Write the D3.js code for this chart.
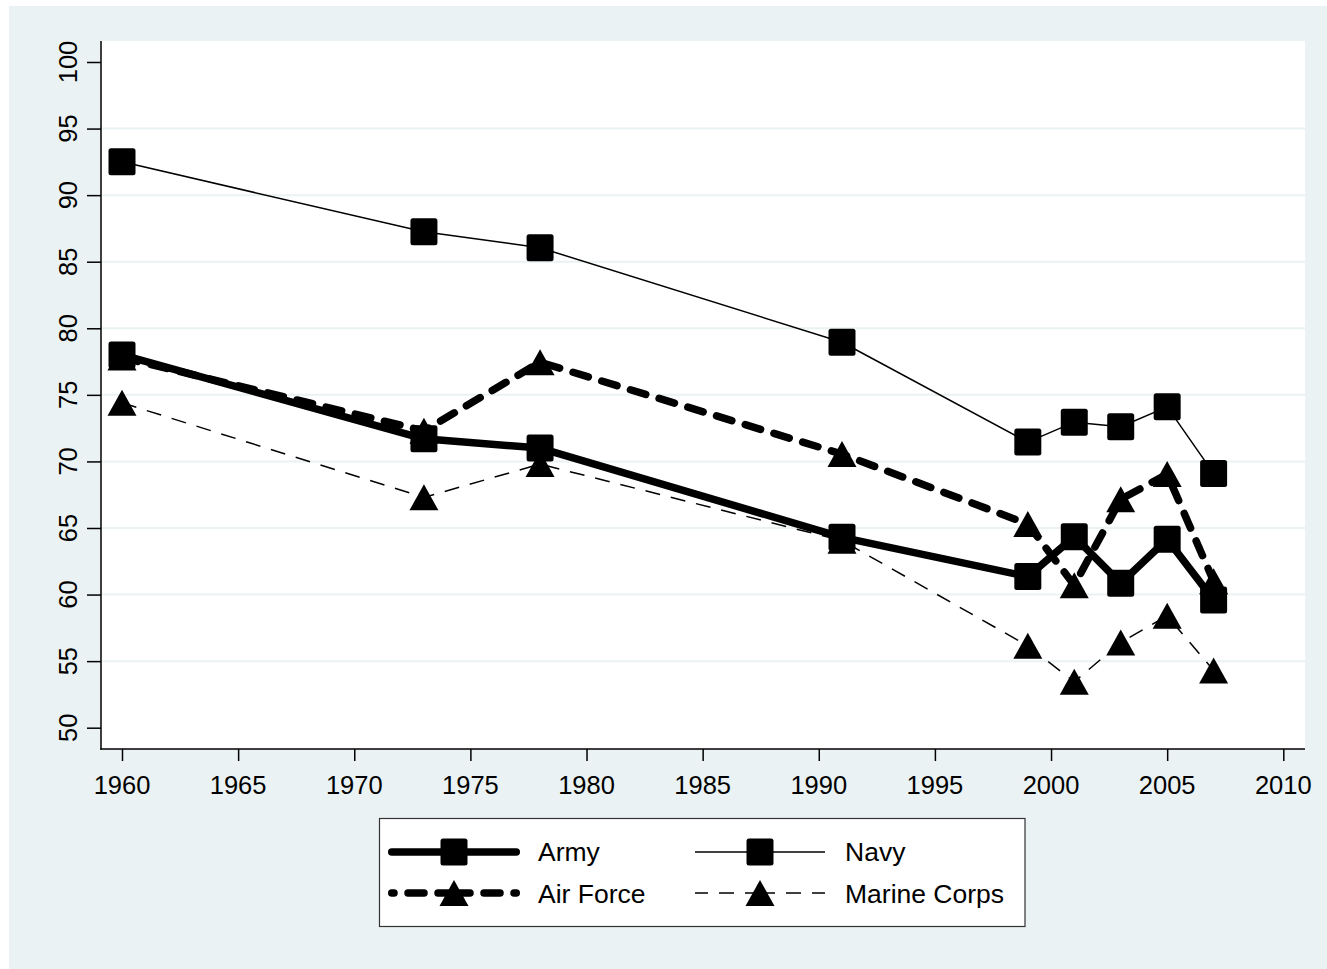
<!DOCTYPE html>
<html>
<head>
<meta charset="utf-8">
<script src="https://cdn.jsdelivr.net/npm/d3@7/dist/d3.min.js"></script>
<style>
  html, body { margin: 0; padding: 0; background: #ffffff; }
  svg { display: block; }
  text { font-family: "Liberation Sans", Arial, Helvetica, sans-serif; fill: #000; }
</style>
</head>
<body>
<svg id="chart" width="1327" height="969"></svg>
<script>
// ---- Data ----
const years = [1960, 1973, 1978, 1991, 1999, 2001, 2003, 2005, 2007];
const army    = [78.0, 71.7, 71.0, 64.3, 61.35, 64.35, 60.85, 64.15, 59.6];
const navy    = [92.5, 87.25, 86.05, 78.95, 71.45, 72.95, 72.6, 74.1, 69.1];
const airForce = [77.8, 72.3, 77.45, 70.55, 65.3, 60.7, 67.15, 69.05, 61.0];
const marineCorps = [74.4, 67.3, 69.8, 64.05, 56.15, 53.45, 56.4, 58.4, 54.3];
const xTicks = [1960, 1965, 1970, 1975, 1980, 1985, 1990, 1995, 2000, 2005, 2010];
const yTicks = [50, 55, 60, 65, 70, 75, 80, 85, 90, 95, 100];
const seriesNames = ["Army", "Navy", "Air Force", "Marine Corps"];

const svg = d3.select("#chart");
const bg = "#eaf2f3";

// outer graph region
svg.append("rect").attr("x", 9).attr("y", 6).attr("width", 1327 - 9).attr("height", 969 - 6).attr("fill", bg);

const plot = { left: 101, right: 1305, top: 41, bottom: 749 };
svg.append("rect").attr("x", plot.left).attr("y", plot.top)
  .attr("width", plot.right - plot.left).attr("height", plot.bottom - plot.top).attr("fill", "#fff");

const x = d3.scaleLinear().domain([1960, 2010]).range([122, 1283.3]);
const y = d3.scaleLinear().domain([50, 100]).range([727.7, 62]);

// gridlines (not at min/max)
svg.append("g").selectAll("line").data(yTicks.filter(t => t !== 50 && t !== 100)).join("line")
  .attr("x1", plot.left).attr("x2", plot.right)
  .attr("y1", d => y(d)).attr("y2", d => y(d))
  .attr("stroke", bg).attr("stroke-width", 2);

// y axis
const yAxis = svg.append("g").attr("transform", `translate(${plot.left},0)`)
  .call(d3.axisLeft(y).tickValues(yTicks).tickSize(14).tickFormat(d3.format("d")));
yAxis.select(".domain").remove();
yAxis.selectAll(".tick line").attr("stroke", "#000").attr("stroke-width", 1.5);
yAxis.selectAll(".tick text").remove();
svg.append("line").attr("x1", plot.left).attr("x2", plot.left).attr("y1", plot.top).attr("y2", plot.bottom + 0.75)
  .attr("stroke", "#000").attr("stroke-width", 1.5);
svg.append("g").selectAll("text").data(yTicks).join("text")
  .attr("transform", d => `translate(76.5,${y(d)}) rotate(-90)`)
  .attr("text-anchor", "middle")
  .style("font-size", "25.5px")
  .text(d => d);

// x axis
const xAxis = svg.append("g").attr("transform", `translate(0,${plot.bottom})`)
  .call(d3.axisBottom(x).tickValues(xTicks).tickSize(12).tickFormat(d3.format("d")));
xAxis.select(".domain").remove();
xAxis.selectAll(".tick line").attr("stroke", "#000").attr("stroke-width", 1.5);
xAxis.selectAll(".tick text").remove();
svg.append("line").attr("x1", plot.left - 0.75).attr("x2", plot.right).attr("y1", plot.bottom).attr("y2", plot.bottom)
  .attr("stroke", "#000").attr("stroke-width", 1.5);
svg.append("g").selectAll("text").data(xTicks).join("text")
  .attr("x", d => x(d)).attr("y", 793.5)
  .attr("text-anchor", "middle")
  .style("font-size", "25.5px")
  .text(d => d);

// marker shapes
function squarePath(s) {
  const h = s / 2, r = 2.5;
  return `M${-h + r},${-h} H${h - r} Q${h},${-h} ${h},${-h + r} V${h - r} Q${h},${h} ${h - r},${h} H${-h + r} Q${-h},${h} ${-h},${h - r} V${-h + r} Q${-h},${-h} ${-h + r},${-h} Z`;
}
function trianglePath(w, hgt) {
  return `M0,${-hgt / 2} L${w / 2},${hgt / 2} L${-w / 2},${hgt / 2} Z`;
}

const styles = {
  "Army": { data: army, width: 7.5, dash: null, marker: "square" },
  "Navy": { data: navy, width: 1.5, dash: null, marker: "square" },
  "Air Force": { data: airForce, width: 7.5, dash: "16,14", marker: "triangle" },
  "Marine Corps": { data: marineCorps, width: 1.5, dash: "15,11", marker: "triangle" }
};

const line = d3.line().x((d, i) => x(years[i])).y(d => y(d));

seriesNames.forEach(name => {
  const st = styles[name];
  const g = svg.append("g");
  g.append("path").datum(st.data).attr("d", line)
    .attr("fill", "none").attr("stroke", "#000")
    .attr("stroke-width", st.width)
    .attr("stroke-linecap", st.width > 3 ? "round" : "butt")
    .attr("stroke-linejoin", "round")
    .attr("stroke-dasharray", st.dash);
  g.selectAll("path.m").data(st.data).join("path").attr("class", "m")
    .attr("transform", (d, i) => `translate(${x(years[i])},${y(d)})`)
    .attr("d", st.marker === "square" ? squarePath(27) : trianglePath(29, 26))
    .attr("fill", "#000");
});

// legend
const lg = svg.append("g");
lg.append("rect").attr("x", 379.5).attr("y", 818.5).attr("width", 645.5).attr("height", 108)
  .attr("fill", "#fff").attr("stroke", "#333").attr("stroke-width", 1.2);
const legendPos = {
  "Army": { x1: 388, x2: 520, cy: 852, tx: 538, ty: 861 },
  "Navy": { x1: 695, x2: 825, cy: 852, tx: 845, ty: 861 },
  "Air Force": { x1: 388, x2: 520, cy: 893, tx: 538, ty: 903 },
  "Marine Corps": { x1: 695, x2: 825, cy: 893, tx: 845, ty: 903 }
};
seriesNames.forEach(name => {
  const st = styles[name], p = legendPos[name];
  const cap = st.width > 3 ? "round" : "butt";
  let lx1 = p.x1 + (cap === "round" ? st.width / 2 : 0);
  let lx2 = p.x2 - (cap === "round" ? st.width / 2 : 0);
  const cx = (p.x1 + p.x2) / 2;
  if (st.dash) {
    lg.append("line").attr("x1", cx).attr("x2", lx1).attr("y1", p.cy).attr("y2", p.cy)
      .attr("stroke", "#000").attr("stroke-width", st.width).attr("stroke-linecap", cap)
      .attr("stroke-dasharray", st.dash);
    lg.append("line").attr("x1", cx).attr("x2", lx2).attr("y1", p.cy).attr("y2", p.cy)
      .attr("stroke", "#000").attr("stroke-width", st.width).attr("stroke-linecap", cap)
      .attr("stroke-dasharray", st.dash);
  } else {
    lg.append("line").attr("x1", lx1).attr("x2", lx2).attr("y1", p.cy).attr("y2", p.cy)
      .attr("stroke", "#000").attr("stroke-width", st.width).attr("stroke-linecap", cap);
  }
  lg.append("path").attr("transform", `translate(${cx},${p.cy})`)
    .attr("d", st.marker === "square" ? squarePath(27) : trianglePath(29, 26)).attr("fill", "#000");
  lg.append("text").attr("x", p.tx).attr("y", p.ty).style("font-size", "26.5px").text(name);
});
</script>
</body>
</html>
